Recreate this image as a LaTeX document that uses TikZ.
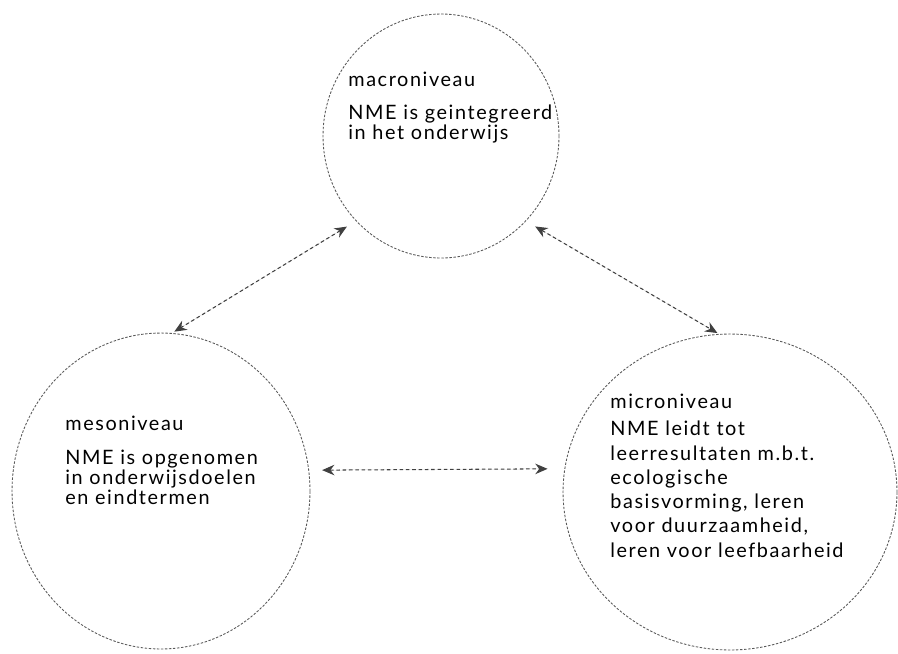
\documentclass[tikz,border=0pt]{standalone}
\usepackage{fontspec}
\setmainfont[LetterSpace=8,Ligatures=NoCommon]{Lato}
\usetikzlibrary{shapes.geometric,arrows.meta}
\begin{document}
\begin{tikzpicture}[x=0.02cm,y=-0.02cm,
		>={Stealth[length=7pt,width=6pt]},
		niveau/.style={ellipse,draw=black!65,line width=0.5pt,dash pattern=on 1.4pt off 0.9pt,inner sep=0pt},
		arrowstyle/.style={<->,draw=black!75,fill=black!45,line width=0.6pt,dash pattern=on 2pt off 1.6pt},
		titel/.style={anchor=base west,inner sep=0pt,font=\fontsize{11.3}{12}\selectfont},
		tekst/.style={anchor=base west,inner sep=0pt,align=left,font=\fontsize{11.3}{8.3}\selectfont}]
		
		\useasboundingbox (0,0) rectangle (898,653);
		
		\node[niveau,minimum width=4.72cm,minimum height=4.88cm] (macro) at (441,136) {};
		\node[niveau,minimum width=5.96cm,minimum height=6.32cm] (meso) at (161,491) {};
		\node[niveau,minimum width=6.68cm,minimum height=6.32cm] (micro) at (730,492) {};
		
		% tekstblokken: base = basislijn van de laatste regel
		\node[titel] (macrotitel) at (348,86) {macroniveau};
		\node[tekst] (macrotekst) at (348,139) {NME is geintegreerd\\in het onderwijs};
		\node[titel] (mesotitel) at (65,430) {mesoniveau};
		\node[tekst,font=\fontsize{11.3}{8.8}\selectfont] (mesotekst) at (65,504) {NME is opgenomen\\in onderwijsdoelen\\en eindtermen};
		\node[titel] (microtitel) at (610,408) {microniveau};
		\node[tekst,font=\fontsize{11.3}{13.8}\selectfont] (microtekst) at (610,557) {NME leidt tot\\leerresultaten m.b.t.\\ecologische\\basisvorming, leren\\voor duurzaamheid,\\leren voor leefbaarheid};
		
		\draw[arrowstyle,shorten <=6pt,shorten >=1.5pt] (macro.225) -- (meso.86);
		\draw[arrowstyle,shorten <=6pt,shorten >=1pt] (macro.315) -- (micro.94);
		\draw[arrowstyle,shorten <=7.4pt,shorten >=9.6pt] (meso.8) -- (micro.172);
		\end{tikzpicture}
\end{document}
